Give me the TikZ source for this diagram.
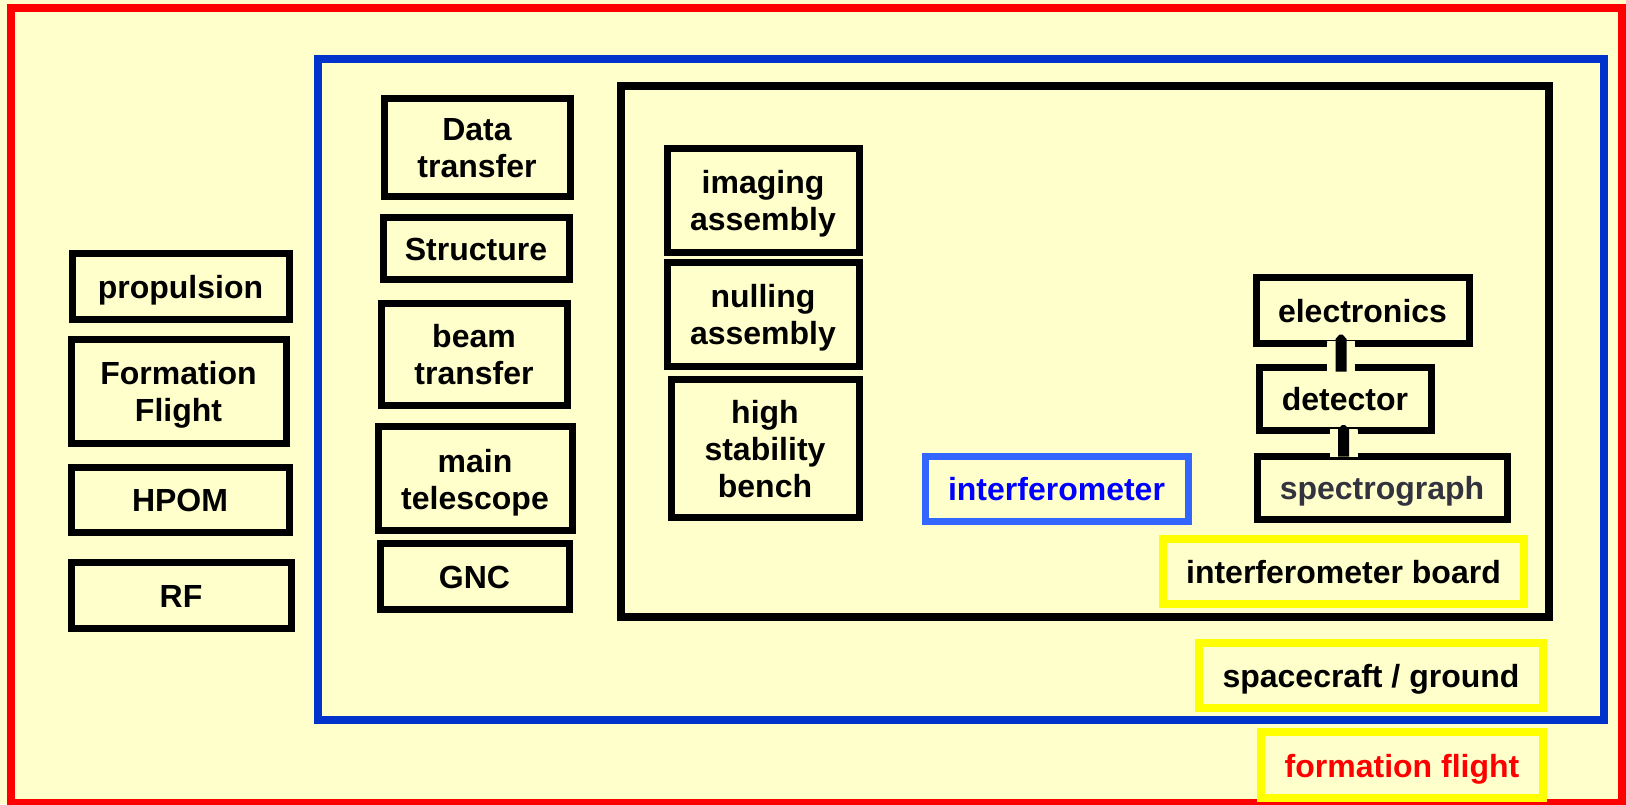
\documentclass[tikz,border=0pt]{standalone}
\usepackage{fontspec}
\setmainfont{Liberation Sans}
\usetikzlibrary{calc}
\definecolor{bgc}{HTML}{FFFFCC}
\definecolor{redc}{HTML}{FF0000}
\definecolor{bluec}{HTML}{0033CC}
\definecolor{yelc}{HTML}{FFFF00}
\definecolor{ifbox}{HTML}{3366FF}
\definecolor{iftxt}{HTML}{0000FF}
\definecolor{spectxt}{HTML}{333340}
\newcommand\topstrut{\rule{0pt}{31pt}}
\newcommand\botstrut{\rule[-7pt]{0pt}{7pt}}
\begin{document}
\begin{tikzpicture}[x=1pt,y=-1pt,
  lbl/.style={font=\fontsize{32}{37}\selectfont\bfseries, align=center, inner sep=0pt,
    execute at begin node=\topstrut, execute at end node=\botstrut},
  bx/.style={lbl, draw=black, line width=7pt, rectangle},
  ybx/.style={lbl, draw=yelc, line width=8pt, rectangle},
  frame/.style={line width=8pt}]
\useasboundingbox (0,0) rectangle (1626,804);
\fill[bgc] (0,0) rectangle (1626,804);
% frames
\draw[frame, redc] (11,8) rectangle (1622,803);
\draw[frame, bluec] (318,59) rectangle (1604,720);
\draw[frame, black] (621,86) rectangle (1549,617);
% left column
\node[bx, minimum width=217, minimum height=66] (prop) at (180.5,286) {propulsion};
\node[bx, minimum width=215, minimum height=104] (ff) at (178.5,391) {\topstrut Formation\\Flight\botstrut};
\node[bx, minimum width=218, minimum height=65] (hpom) at (180,499.5) {HPOM};
\node[bx, minimum width=220, minimum height=66] (rf) at (181,595) {RF};
% middle column
\node[bx, minimum width=186, minimum height=98] (data) at (477,147) {\topstrut Data\\transfer\botstrut};
\node[bx, minimum width=186, minimum height=62] (struct) at (476,248) {Structure};
\node[bx, minimum width=186, minimum height=102] (beam) at (474,354) {\topstrut beam\\transfer\botstrut};
\node[bx, minimum width=194, minimum height=104] (tele) at (475,478.5) {\topstrut main\\telescope\botstrut};
\node[bx, minimum width=189, minimum height=66] (gnc) at (474.5,576.5) {GNC};
% interferometer column
\node[bx, minimum width=192, minimum height=104] (img) at (763,200) {\topstrut imaging\\assembly\botstrut};
\node[bx, minimum width=192, minimum height=104] (null) at (763,314) {\topstrut nulling\\assembly\botstrut};
\node[bx, minimum width=188, minimum height=138] (bench) at (765,448) {\topstrut high\\stability\\bench\botstrut};
\node[lbl, draw=ifbox, line width=7pt, text=iftxt, minimum width=263, minimum height=65] (interf) at (1056.5,488.5) {interferometer};
% right stack
\node[bx, minimum width=213, minimum height=66] (elec) at (1362.5,310) {electronics};
\node[bx, minimum width=172, minimum height=63] (det) at (1345,398.5) {detector};
\node[bx, text=spectxt, minimum width=250, minimum height=63] (spec) at (1382,487.5) {spectrograph};
% yellow labels
\node[ybx, minimum width=361, minimum height=65] (board) at (1343.5,571.5) {interferometer board};
\node[ybx, minimum width=344, minimum height=65] (sc) at (1371,675.5) {spacecraft / ground};
\node[ybx, text=redc, minimum width=282, minimum height=66] (form) at (1402,765) {formation flight};
% arrow detector -> electronics
\coordinate (u0) at ($(det.north)+(-4,8)$);
\coordinate (u1) at ($(elec.south)+(-21.5,-12)$);
\coordinate (ub) at ($(u1)+(0,12)$);
\fill[bgc] ($(u0)+(-14,0)$) rectangle ($(u1)+(14,6)$);
\fill[black] ($(ub)+(-32,-3.5)$) -- ($(ub)+(-26,-6.5)$) -- ($(ub)+(-14,-6.5)$) -- ($(ub)+(-14,-3.5)$) -- cycle;
\fill[black] ($(ub)+(32,-3.5)$) -- ($(ub)+(26,-6.5)$) -- ($(ub)+(14,-6.5)$) -- ($(ub)+(14,-3.5)$) -- cycle;
\fill[black] ($(u0)+(-5.5,0)$) -- ($(u1)+(-5.5,4.5)$) -- ($(u1)+(-1.5,0)$) -- ($(u1)+(1.5,0)$) -- ($(u1)+(5.5,4.5)$) -- ($(u0)+(5.5,0)$) -- cycle;
% arrow spectrograph -> detector
\coordinate (l0) at ($(spec.north)+(-38.5,4)$);
\coordinate (l1) at ($(det.south)+(-1.5,-8.5)$);
\coordinate (lb) at ($(l1)+(0,8.5)$);
\fill[bgc] ($(l0)+(-14,0)$) rectangle ($(l1)+(14,4)$);
\fill[black] ($(lb)+(-32,-3.5)$) -- ($(lb)+(-26,-6.5)$) -- ($(lb)+(-14,-6.5)$) -- ($(lb)+(-14,-3.5)$) -- cycle;
\fill[black] ($(lb)+(32,-3.5)$) -- ($(lb)+(26,-6.5)$) -- ($(lb)+(14,-6.5)$) -- ($(lb)+(14,-3.5)$) -- cycle;
\fill[black] ($(l0)+(-5.5,0)$) -- ($(l1)+(-5.5,4.5)$) -- ($(l1)+(-1.5,0)$) -- ($(l1)+(1.5,0)$) -- ($(l1)+(5.5,4.5)$) -- ($(l0)+(5.5,0)$) -- cycle;
\end{tikzpicture}
\end{document}
